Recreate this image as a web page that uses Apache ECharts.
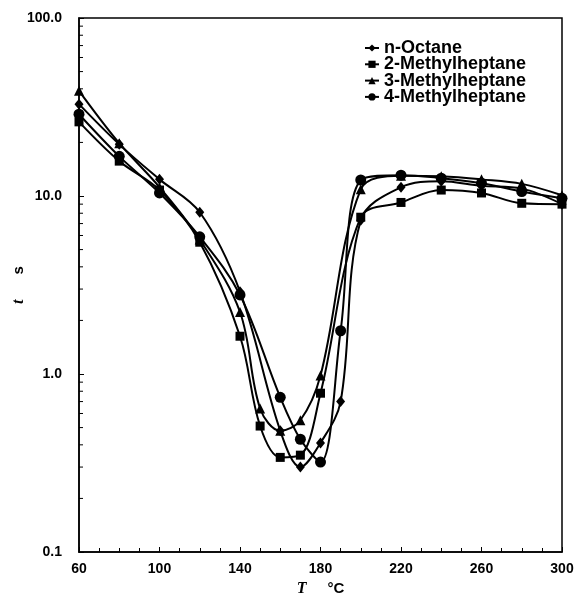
<!DOCTYPE html>
<html>
<head>
<meta charset="utf-8">
<script src="https://cdn.jsdelivr.net/npm/echarts@6/dist/echarts.min.js"></script>
<style>
html, body { margin: 0; padding: 0; background: #fff; }
#main { width: 575px; height: 598px; }
</style>
</head>
<body>
<div id="main"></div>
<script>
// 温度 T (°C) と時間 t (s)
var seriesNames = ['n-Octane', '2-Methylheptane', '3-Methylheptane', '4-Methylheptane'];
var octaneX   = [60, 80, 100, 120, 140, 160, 170, 180, 190, 200, 220, 240, 260, 280, 300];
var octaneY   = [32.8, 19.5, 12.4, 8.1, 2.9, 0.48, 0.30, 0.41, 0.70, 7.3, 11.2, 12.1, 11.4, 11.0, 9.0];
var methyl2X  = [60, 80, 100, 120, 140, 150, 160, 170, 180, 200, 220, 240, 260, 280, 300];
var methyl2Y  = [26.1, 15.7, 10.8, 5.5, 1.63, 0.51, 0.34, 0.35, 0.78, 7.6, 9.2, 10.8, 10.4, 9.1, 9.0];
var methyl3X  = [60, 80, 100, 120, 140, 150, 160, 170, 180, 200, 220, 240, 260, 280, 300];
var methyl3Y  = [39.0, 19.8, 11.2, 5.7, 2.23, 0.64, 0.48, 0.55, 0.98, 10.9, 13.0, 12.9, 12.4, 11.7, 10.1];
var methyl4X  = [60, 80, 100, 120, 140, 160, 170, 180, 190, 200, 220, 240, 260, 280, 300];
var methyl4Y  = [28.8, 16.7, 10.4, 5.9, 2.78, 0.74, 0.43, 0.32, 1.75, 12.3, 13.1, 12.6, 11.8, 10.6, 9.7];
// 対数軸の補助目盛
var minorTicksY = [0.2, 0.3, 0.4, 0.5, 0.6, 0.7, 0.8, 0.9, 2, 3, 4, 5, 6, 7, 8, 9, 20, 30, 40, 50, 60, 70, 80, 90];

var font = 'Liberation Sans, Arial, sans-serif';

function pairs(xs, ys) {
    return xs.map(function (x, i) { return [x, ys[i]]; });
}

function lineSeries(name, xs, ys, symbol, size) {
    return {
        name: name,
        type: 'line',
        smooth: 0.35,
        data: pairs(xs, ys),
        symbol: symbol,
        symbolSize: size,
        lineStyle: { color: '#000', width: 2 },
        itemStyle: { color: '#000' },
        z: 3
    };
}

var chart = echarts.init(document.getElementById('main'));
chart.setOption({
    animation: false,
    backgroundColor: '#fff',
    grid: {
        left: 79, right: 13, top: 18, bottom: 46,
        outerBoundsMode: 'none',
        containLabel: false,
        show: true, borderColor: '#000', borderWidth: 1.5
    },
    legend: {
        data: seriesNames,
        orient: 'vertical',
        left: 359,
        top: 34,
        itemWidth: 14,
        itemHeight: 9,
        itemGap: -1.7,
        textStyle: { fontFamily: font, fontSize: 18, fontWeight: 'bold', color: '#000', lineHeight: 16.3 }
    },
    xAxis: {
        type: 'value',
        min: 60, max: 300, interval: 40,
        name: '{it|T}     °C',
        nameLocation: 'middle',
        nameGap: 24,
        nameTextStyle: {
            fontFamily: font, fontSize: 15, fontWeight: 'bold', color: '#000',
            rich: { it: { fontFamily: 'Liberation Serif, serif', fontStyle: 'italic', fontSize: 16, fontWeight: 'bold' } }
        },
        axisLine: { lineStyle: { color: '#000', width: 1.5 } },
        axisTick: { inside: true, length: 5, lineStyle: { color: '#000' } },
        minorTick: { show: true, splitNumber: 4, length: 4, lineStyle: { color: '#000' } },
        splitLine: { show: false },
        axisLabel: { fontFamily: font, fontSize: 14, fontWeight: 'bold', color: '#000', margin: 10 }
    },
    yAxis: {
        type: 'log',
        min: 0.1, max: 100,
        logBase: 10,
        name: '{it|t}      s',
        nameLocation: 'middle',
        nameGap: 52,
        nameMoveOverlap: false,
        nameTextStyle: {
            fontFamily: font, fontSize: 15, fontWeight: 'bold', color: '#000',
            rich: { it: { fontFamily: 'Liberation Serif, serif', fontStyle: 'italic', fontSize: 16, fontWeight: 'bold' } }
        },
        axisLine: { lineStyle: { color: '#000', width: 1.5 } },
        axisTick: { inside: true, length: 5, lineStyle: { color: '#000' } },
        splitLine: { show: false },
        axisLabel: {
            fontFamily: font, fontSize: 14, fontWeight: 'bold', color: '#000', margin: 17,
            formatter: function (v) { return Number(v).toFixed(1); }
        }
    },
    series: [
        lineSeries(seriesNames[0], octaneX, octaneY, 'diamond', [9, 11]),
        lineSeries(seriesNames[1], methyl2X, methyl2Y, 'rect', 9),
        lineSeries(seriesNames[2], methyl3X, methyl3Y, 'triangle', 10),
        lineSeries(seriesNames[3], methyl4X, methyl4Y, 'circle', 11),
        {
            type: 'custom',
            silent: true,
            data: minorTicksY.map(function (v) { return [60, v]; }),
            renderItem: function (params, api) {
                var p = api.coord([api.value(0), api.value(1)]);
                return {
                    type: 'line',
                    shape: { x1: p[0], y1: p[1], x2: p[0] + 4, y2: p[1] },
                    style: { stroke: '#000', lineWidth: 1 }
                };
            },
            z: 2
        }
    ]
});
</script>
</body>
</html>
